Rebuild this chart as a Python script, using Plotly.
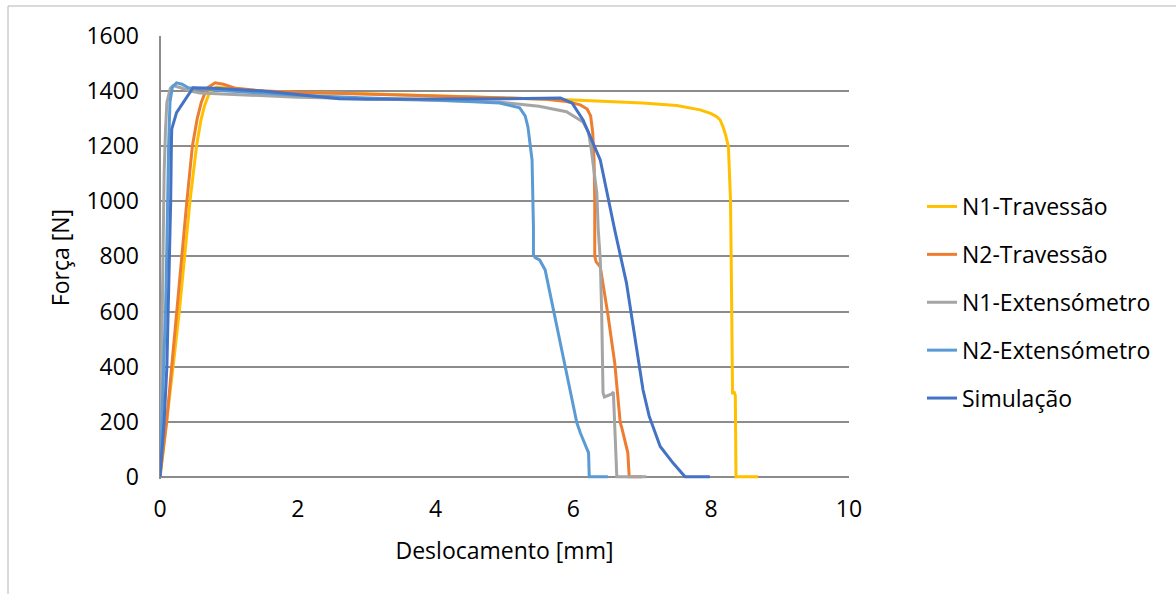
import plotly.graph_objects as go

# ---- data ----
n1_trav_x = [0, 0.10, 0.19, 0.28, 0.36, 0.435, 0.53, 0.59, 0.65, 0.72, 0.82, 1.0, 1.5, 2, 3, 4, 5, 6, 7, 7.5,
             7.84, 8.0, 8.08, 8.13, 8.17, 8.21, 8.25, 8.28, 8.29, 8.30, 8.30, 8.31, 8.33, 8.35, 8.36, 8.68]
n1_trav_y = [0, 200, 400, 600, 800, 1000, 1200, 1290, 1350, 1395, 1415, 1410, 1400, 1395, 1390, 1383, 1375, 1368,
             1357, 1348, 1332, 1318, 1307, 1295, 1271, 1240, 1198, 1005, 800, 545, 305, 300, 310, 295, 0, 0]

n2_trav_x = [0, 0.097, 0.17, 0.24, 0.31, 0.39, 0.47, 0.54, 0.60, 0.68, 0.80, 0.92, 1.1, 1.5, 2, 3, 4, 5, 5.6,
             5.9, 6.1, 6.2, 6.25, 6.28, 6.30, 6.31, 6.31, 6.33, 6.39, 6.50, 6.60, 6.68, 6.70, 6.79, 6.81, 7.0]
n2_trav_y = [0, 200, 400, 600, 800, 1000, 1200, 1300, 1360, 1410, 1430, 1425, 1410, 1400, 1396, 1390, 1382, 1375,
             1370, 1362, 1350, 1335, 1310, 1250, 1150, 1000, 800, 780, 762, 590, 413, 196, 180, 87, 0, 0]

n1_ext_x = [0, 0.02, 0.04, 0.06, 0.08, 0.10, 0.15, 0.19, 0.30, 0.44, 0.58, 1, 2, 3, 4, 4.93, 5.5, 5.9, 6.14,
            6.22, 6.26, 6.30, 6.34, 6.36, 6.39, 6.41, 6.43, 6.45, 6.55, 6.58, 6.60, 6.63, 7.06]
n1_ext_y = [0, 400, 800, 1100, 1260, 1360, 1410, 1420, 1412, 1400, 1393, 1388, 1378, 1372, 1365, 1360, 1345, 1325,
            1288, 1250, 1187, 1100, 1030, 900, 787, 600, 305, 290, 300, 308, 200, 0, 0]

n2_ext_x = [0, 0.03, 0.06, 0.08, 0.097, 0.11, 0.125, 0.145, 0.18, 0.24, 0.32, 0.41, 0.6, 1, 2, 3, 4, 4.93, 5.22,
            5.30, 5.34, 5.40, 5.42, 5.42, 5.45, 5.51, 5.59, 5.71, 5.86, 6.05, 6.10, 6.22, 6.23, 6.5]
n2_ext_y = [0, 200, 400, 600, 800, 1000, 1200, 1360, 1415, 1430, 1425, 1412, 1408, 1400, 1385, 1375, 1368, 1357,
            1339, 1310, 1270, 1150, 907, 805, 795, 787, 751, 606, 435, 196, 160, 87, 0, 0]

sim_x = [0, 0.06, 0.10, 0.12, 0.14, 0.155, 0.165, 0.17, 0.24, 0.48, 0.8, 1.5, 2, 2.6, 3, 4, 5, 5.81, 5.98,
         6.14, 6.39, 6.60, 6.77, 7.01, 7.10, 7.26, 7.45, 7.62, 7.98]
sim_y = [0, 200, 400, 600, 800, 1000, 1200, 1262, 1322, 1412, 1410, 1400, 1388, 1372, 1370, 1370, 1372, 1375,
         1357, 1295, 1150, 896, 704, 316, 220, 110, 49, 0, 0]

series_names = ["N1-Travessão", "N2-Travessão", "N1-Extensómetro", "N2-Extensómetro", "Simulação"]
series_x = [n1_trav_x, n2_trav_x, n1_ext_x, n2_ext_x, sim_x]
series_y = [n1_trav_y, n2_trav_y, n1_ext_y, n2_ext_y, sim_y]
colors = ["#FFC000", "#ED7D31", "#A5A5A5", "#5B9BD5", "#4472C4"]

x_ticks = [0, 2, 4, 6, 8, 10]
y_ticks = [0, 200, 400, 600, 800, 1000, 1200, 1400, 1600]

FONT = "Open Sans"
FS = 23
grid_c = "#8c8c8c"

fig = go.Figure()
for name, xs, ys, c in zip(series_names, series_x, series_y, colors):
    fig.add_trace(go.Scatter(x=xs, y=ys, mode="lines", name=name, legendgroup=name,
                             line=dict(color=c, width=3)))

fig.update_layout(
    width=1176, height=594,
    margin=dict(l=160, r=327, t=36, b=115, autoexpand=False),
    paper_bgcolor="white", plot_bgcolor="white",
    font=dict(family=FONT, size=FS, color="#000000"),
    showlegend=True,
    legend=dict(x=(922 - 160) / 689, xanchor="left", y=(479 - 185) / 443, yanchor="top",
                font=dict(family=FONT, size=FS, color="#000000"),
                tracegroupgap=15, bgcolor="rgba(0,0,0,0)", borderwidth=0),
    xaxis=dict(range=[0, 10], tickvals=x_ticks, showgrid=False, zeroline=True, zerolinecolor=grid_c,
               zerolinewidth=1.5, showline=False, ticks="", ticklabelstandoff=14,
               tickfont=dict(family=FONT, size=FS, color="#000000"),
               title=dict(text="Deslocamento [mm]", standoff=19,
                          font=dict(family=FONT, size=FS, color="#000000"))),
    yaxis=dict(range=[-8, 1600], tickvals=y_ticks, showgrid=True, gridcolor=grid_c, gridwidth=1.5,
               zeroline=True, zerolinecolor=grid_c, zerolinewidth=1.5, showline=False, ticks="",
               ticklabelstandoff=20,
               tickfont=dict(family=FONT, size=FS, color="#000000"),
               title=dict(text="Força [N]", standoff=10,
                          font=dict(family=FONT, size=FS, color="#000000"))),
    shapes=[
        dict(type="line", xref="paper", yref="paper", x0=(8 - 160) / 689, x1=(8 - 160) / 689,
             y0=-0.5, y1=(479 - 6) / 443, line=dict(color="#b4b4b4", width=1)),
        dict(type="line", xref="paper", yref="paper", x0=(8 - 160) / 689, x1=1.6,
             y0=(479 - 6) / 443, y1=(479 - 6) / 443, line=dict(color="#b4b4b4", width=1)),
    ],
)

fig.write_html("out.html")
